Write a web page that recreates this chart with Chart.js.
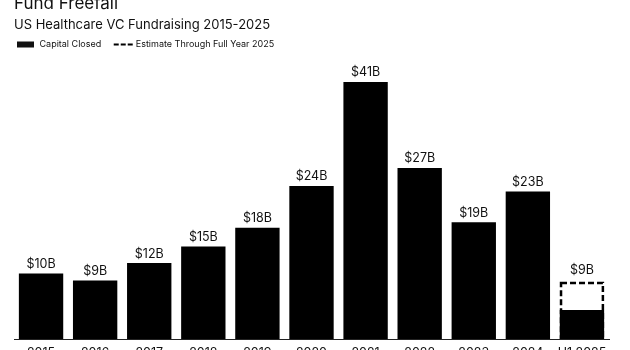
<!DOCTYPE html>
<html>
<head>
<meta charset="utf-8">
<script src="https://cdn.jsdelivr.net/npm/chart.js@4"></script>
<style>
  html, body { margin: 0; padding: 0; background: #fff; overflow: hidden; }
  #frame { width: 630px; height: 350px; position: relative; overflow: hidden; }
  #chart { position: absolute; left: 0; top: -12px; }
</style>
</head>
<body>
<div id="frame"><canvas id="chart" width="630" height="382"></canvas></div>
<script>
// Data ($B)
const categories = ['2015', '2016', '2017', '2018', '2019', '2020', '2021', '2022', '2023', '2024', 'H1 2025'];
const capitalClosed = [10.4, 9.3, 12.05, 14.7, 17.65, 24.3, 40.8, 27.15, 18.55, 23.4, 4.6];
const fullYearEstimate = [null, null, null, null, null, null, null, null, null, null, 9.1];
const closedLabels = ['$10B', '$9B', '$12B', '$15B', '$18B', '$24B', '$41B', '$27B', '$19B', '$23B', null];
const estimateLabels = [null, null, null, null, null, null, null, null, null, null, '$9B'];
const legendLabels = ['Capital Closed', 'Estimate Through Full Year 2025'];

const FONT = 'Inter, "Noto Sans", sans-serif';
const INK = '#111';

// dashed outline for the full-year estimate bar
const dashedOutline = {
    id: 'dashedOutline',
    afterDatasetsDraw(chart) {
        const ctx = chart.ctx;
        const meta = chart.getDatasetMeta(1);
        const lw = 2.5;
        ctx.save();
        ctx.strokeStyle = '#000';
        ctx.lineWidth = lw;
        ctx.setLineDash([6, 3]);
        meta.data.forEach((bar, i) => {
            if (fullYearEstimate[i] == null) return;
            const { x, y, base, width } = bar.getProps(['x', 'y', 'base', 'width'], true);
            ctx.strokeRect(x - width / 2 + lw / 2, y + lw / 2, width - lw, base - y - lw);
        });
        ctx.restore();
    }
};

// value labels above bars
const valueLabels = {
    id: 'valueLabels',
    afterDatasetsDraw(chart) {
        const ctx = chart.ctx;
        ctx.save();
        ctx.font = '12.5px ' + FONT;
        ctx.fillStyle = INK;
        ctx.textAlign = 'center';
        ctx.textBaseline = 'alphabetic';
        [[0, closedLabels, 5.5], [1, estimateLabels, 7.5]].forEach(([di, labels, gap]) => {
            chart.getDatasetMeta(di).data.forEach((bar, i) => {
                if (!labels[i]) return;
                ctx.fillText(labels[i], bar.x, bar.y - gap);
            });
        });
        ctx.restore();
    }
};

// legend row under the subtitle
const legendRow = {
    id: 'legendRow',
    afterDraw(chart) {
        const ctx = chart.ctx;
        const y = 56.5;
        let x = 17;
        ctx.save();
        ctx.font = '9px ' + FONT;
        ctx.fillStyle = INK;
        ctx.textBaseline = 'middle';
        ctx.fillRect(x, y - 3, 17, 6);
        x += 22.5;
        ctx.fillText(legendLabels[0], x, y);
        x += ctx.measureText(legendLabels[0]).width + 12.5;
        ctx.strokeStyle = '#000';
        ctx.lineWidth = 2;
        ctx.setLineDash([5, 2]);
        ctx.beginPath();
        ctx.moveTo(x, y);
        ctx.lineTo(x + 19, y);
        ctx.stroke();
        x += 22;
        ctx.fillText(legendLabels[1], x, y);
        ctx.restore();
    }
};

new Chart(document.getElementById('chart'), {
    type: 'bar',
    data: {
        labels: categories,
        datasets: [
            {
                label: legendLabels[0],
                data: capitalClosed,
                backgroundColor: '#000',
                borderWidth: 0,
                grouped: false,
                categoryPercentage: 1,
                barPercentage: 0.82
            },
            {
                label: legendLabels[1],
                data: fullYearEstimate,
                backgroundColor: 'rgba(0,0,0,0)',
                borderWidth: 0,
                grouped: false,
                categoryPercentage: 1,
                barPercentage: 0.82
            }
        ]
    },
    options: {
        responsive: false,
        animation: false,
        layout: { padding: { left: 14, right: 21, top: 0, bottom: 2 } },
        plugins: {
            legend: { display: false },
            tooltip: { enabled: false },
            title: {
                display: true,
                text: 'Fund Freefall',
                align: 'start',
                color: INK,
                font: { family: FONT, size: 17, weight: 'normal' },
                padding: { top: 5.3, bottom: 0 }
            },
            subtitle: {
                display: true,
                text: 'US Healthcare VC Fundraising 2015-2025',
                align: 'start',
                color: INK,
                font: { family: FONT, size: 13, weight: 'normal' },
                padding: { top: 3.2, bottom: 23 }
            }
        },
        scales: {
            x: {
                grid: { display: false, drawTicks: false },
                border: { display: true, color: '#222', width: 1 },
                ticks: {
                    color: INK, padding: 7, maxRotation: 0, minRotation: 0, autoSkip: false,
                    font: { family: FONT, size: 12.5 }
                }
            },
            y: {
                display: false,
                min: 0,
                max: 45
            }
        }
    },
    plugins: [dashedOutline, valueLabels, legendRow]
});
</script>
</body>
</html>
